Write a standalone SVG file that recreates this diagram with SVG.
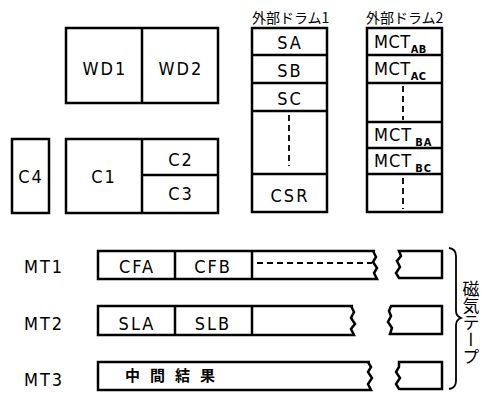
<svg xmlns="http://www.w3.org/2000/svg" width="488" height="393" viewBox="0 0 488 393">
<style>
.b{fill:none;stroke:#000;stroke-width:2.5;stroke-linejoin:miter}
.d{fill:none;stroke:#000;stroke-width:1.8;stroke-dasharray:6 4}
.t{font-family:"DejaVu Sans Condensed","Liberation Sans",sans-serif;font-size:18px;fill:#000;text-anchor:middle;letter-spacing:2px}
.s{font-family:"DejaVu Sans Condensed","Liberation Sans",sans-serif;font-size:11px;font-weight:bold;fill:#000}
.j{font-family:"Noto Sans CJK JP",sans-serif;font-size:14px;fill:#000}
</style>
<rect width="488" height="393" fill="#fff"/>
<g id="wd">
<rect class="b" x="66" y="28" width="152" height="75"/>
<line class="b" x1="142" y1="28" x2="142" y2="103"/>
<text class="t" x="105" y="75">WD1</text>
<text class="t" x="181" y="75">WD2</text>
</g>
<g id="c4">
<rect class="b" x="12" y="139" width="37" height="74"/>
<text class="t" x="31" y="183">C4</text>
</g>
<g id="c">
<rect class="b" x="66" y="139" width="152" height="74"/>
<line class="b" x1="142" y1="139" x2="142" y2="213"/>
<line class="b" x1="142" y1="175" x2="218" y2="175"/>
<text class="t" x="104" y="183">C1</text>
<text class="t" x="181" y="166">C2</text>
<text class="t" x="181" y="200">C3</text>
</g>
<g id="drum1">
<text class="j" x="252" y="23">外部ドラム1</text>
<rect class="b" x="252" y="28" width="75" height="184"/>
<line class="b" x1="252" y1="55" x2="327" y2="55"/>
<line class="b" x1="252" y1="83" x2="327" y2="83"/>
<line class="b" x1="252" y1="111" x2="327" y2="111"/>
<line class="b" x1="252" y1="174" x2="327" y2="174"/>
<line class="d" x1="289" y1="115" x2="289" y2="166"/>
<text class="t" x="290" y="49">SA</text>
<text class="t" x="290" y="77">SB</text>
<text class="t" x="290" y="105">SC</text>
<text class="t" x="290" y="202">CSR</text>
</g>
<g id="drum2">
<text class="j" x="366" y="23">外部ドラム2</text>
<rect class="b" x="367" y="28" width="75" height="184"/>
<line class="b" x1="367" y1="55" x2="442" y2="55"/>
<line class="b" x1="367" y1="83" x2="442" y2="83"/>
<line class="b" x1="367" y1="122" x2="442" y2="122"/>
<line class="b" x1="367" y1="148" x2="442" y2="148"/>
<line class="b" x1="367" y1="174" x2="442" y2="174"/>
<line class="d" x1="403" y1="86" x2="403" y2="120"/>
<line class="d" x1="403" y1="178" x2="403" y2="209"/>
<text class="t" x="374" y="48" style="text-anchor:start;letter-spacing:0.5px">MCT<tspan class="s" dy="5">AB</tspan></text>
<text class="t" x="374" y="75" style="text-anchor:start;letter-spacing:0.5px">MCT<tspan class="s" dy="5">AC</tspan></text>
<text class="t" x="374" y="141" style="text-anchor:start;letter-spacing:1px">MCT<tspan class="s" dy="5" dx="3">BA</tspan></text>
<text class="t" x="374" y="167" style="text-anchor:start;letter-spacing:1px">MCT<tspan class="s" dy="5" dx="3">BC</tspan></text>
</g>
<g id="mt1">
<text class="t" x="44" y="273">MT1</text>
<path class="b" d="M375,251 H98 V279 H377 L374,273 L377,268 L373,262 L376,257 L373,251"/>
<line class="b" x1="175" y1="251" x2="175" y2="279"/>
<line class="b" x1="252" y1="251" x2="252" y2="279"/>
<line class="d" x1="257" y1="263" x2="372" y2="263"/>
<text class="t" x="137" y="273">CFA</text>
<text class="t" x="213" y="273">CFB</text>
<path class="b" d="M399,251 H442 V278 H399 L396,273 L400,267 L397,261 L401,256 Z"/>
</g>
<g id="mt2">
<text class="t" x="44" y="330">MT2</text>
<path class="b" d="M353,306 H98 V335 H354 L351,329 L355,324 L351,318 L354,312 L351,306"/>
<line class="b" x1="175" y1="306" x2="175" y2="335"/>
<line class="b" x1="252" y1="306" x2="252" y2="335"/>
<text class="t" x="137" y="330">SLA</text>
<text class="t" x="213" y="330">SLB</text>
<path class="b" d="M391,306 H442 V334 H390 L392,328 L388,322 L391,316 L389,311 Z"/>
</g>
<g id="mt3">
<text class="t" x="44" y="386">MT3</text>
<path class="b" d="M370,362 H98 V390 H371 L368,384 L372,378 L368,372 L371,367 L368,362"/>
<text class="j" x="175" y="381" style="text-anchor:middle;font-size:15px;letter-spacing:10px;font-weight:bold">中間結果</text>
<path class="b" d="M399,362 H442 V389 H399 L396,384 L400,378 L396,372 L399,367 Z"/>
</g>
<g id="connectors">
<path class="b" style="stroke-width:1.8" d="M449,248 Q456,249 456,256 V311 Q456,316 461,318 Q456,320 456,325 V381 Q456,388 449,389"/>
</g>
<g id="label">
<text class="j" x="471" y="280" writing-mode="vertical-rl" style="font-size:17px">磁気テープ</text>
</g>
</svg>
